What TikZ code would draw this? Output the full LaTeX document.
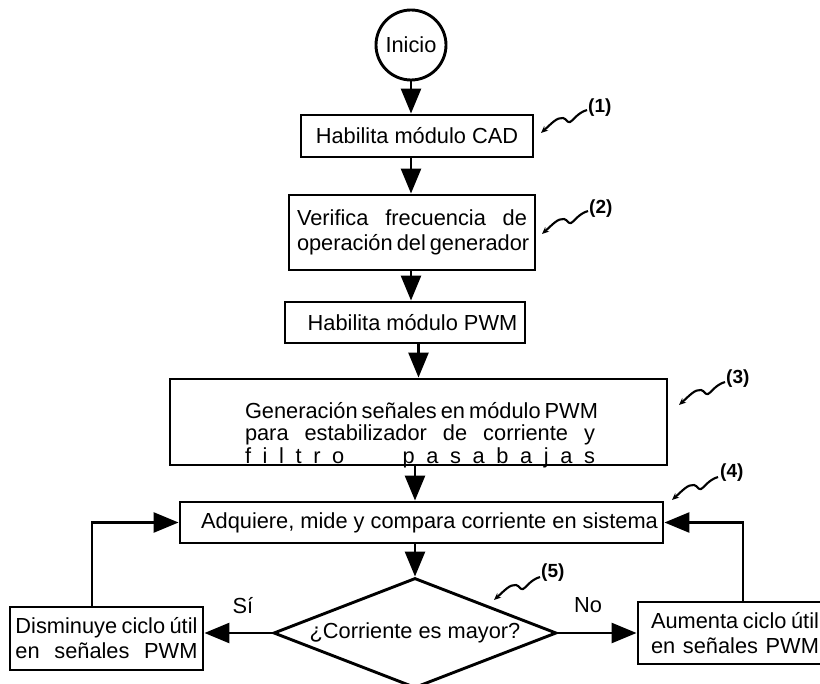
\documentclass[tikz,border=0pt]{standalone}
\usepackage{fontspec}
\setmainfont{Liberation Sans}
\usetikzlibrary{arrows.meta,shapes.geometric}

\tikzset{
  txt/.style={font=\fontsize{21.8pt}{25pt}\selectfont},
  box/.style={draw, line width=2.9pt, rectangle, inner sep=0pt, txt, align=center},
  arr/.style={line width=2.6pt, -{Triangle[length=25pt,width=20pt]}},
  lbl/.style={font=\bfseries\fontsize{19pt}{21pt}\selectfont, inner sep=0pt},
  squigline/.style={line width=2.1pt, {Stealth[length=7pt,width=6pt]}-},
  pics/squig/.style={code={
    \draw[squigline] (0,0) .. controls (10,-9) and (16,-16) .. (22,-15)
      .. controls (26,-14) and (26,-10) .. (29,-11)
      .. controls (32,-12) and (36,-20) .. (46,-23);}}
}

\begin{document}
\begin{tikzpicture}[x=1pt,y=-1pt]
\useasboundingbox (0,0) rectangle (820,684);
\clip (0,0) rectangle (820,684);
\fill[white] (0,0) rectangle (820,684);

% process chain
\node[circle, draw, line width=2.9pt, minimum size=70pt, inner sep=0pt, txt] (ini) at (411,45) {Inicio};
\node[box, minimum width=232pt, minimum height=42pt] (cad) at (417,136) {Habilita módulo CAD};
\node[box, minimum width=246pt, minimum height=75pt] (ver) at (412,232.5)
  {\makebox[230pt][s]{Verifica frecuencia de}\\\makebox[230pt][s]{operación del generador}};
\node[box, minimum width=240pt, minimum height=41pt] (pwm) at (405,322.5) {\hspace*{15pt}Habilita módulo PWM};
\node[box, minimum width=497pt, minimum height=86pt] (gen) at (418.5,422) {};
\node[txt, font=\fontsize{21.8pt}{22.5pt}\selectfont, align=center, inner sep=0pt] (gentxt) at (420,435)
  {\makebox[350pt][s]{Generación señales en módulo PWM}\\
   \makebox[350pt][s]{para estabilizador de corriente y}\\
   \makebox[350pt][s]{f\hfill i\hfill l\hfill t\hfill r\hfill o\hfill\hfill\hfill\hfill\hfill p\hfill a\hfill s\hfill a\hfill b\hfill a\hfill j\hfill a\hfill s}};
\node[box, minimum width=483pt, minimum height=41pt] (adq) at (421.5,522.5) {\hspace*{16pt}Adquiere, mide y compara corriente en sistema};
\node[diamond, draw, line width=2.9pt, minimum width=283pt, minimum height=110pt, aspect=2.5, inner sep=0pt, txt] (dec) at (415,633) {¿Corriente es mayor?};
\node[box, minimum width=193pt, minimum height=63pt] (dis) at (106.5,638.5)
  {\makebox[182pt][s]{Disminuye ciclo útil}\\\makebox[182pt][s]{en señales PWM}};
\node[box, minimum width=194pt, minimum height=62pt] (aum) at (735,633)
  {\makebox[168pt][s]{Aumenta ciclo útil}\\\makebox[168pt][s]{en señales PWM}};

\node[txt, inner sep=0pt] (si) at (243,606) {Sí};
\node[txt, inner sep=0pt] (no) at (588,605) {No};

% connectors
\draw[arr] (ini) -- (ini |- cad.north);
\draw[arr] (cad.south -| ini) -- (ver.north -| ini);
\draw[arr] (ver.south -| ini) -- (pwm.north -| ini);
\draw[arr] (pwm.south -| gen) -- (gen.north);
\draw[arr] (gen.south -| dec) -- (adq.north -| dec);
\draw[arr] (adq.south -| dec) -- (dec.north);
\draw[arr] (dec.west) -- (dec.west -| dis.east);
\draw[arr] (dec.east) -- (aum.west);
\coordinate (lc) at (92,523);
\coordinate (rc) at (743,521);
\draw[arr] (dis.north -| lc) |- (adq.west);
\draw[arr] (aum.north -| rc) |- (adq.east);

% numbered callouts
\coordinate (p1) at (541,133);
\coordinate (p2) at (542,234);
\coordinate (p3) at (679,405);
\coordinate (p4) at (672,500);
\coordinate (p5) at (494,600);
\pic at (p1) {squig};
\pic at (p2) {squig};
\pic at (p3) {squig};
\pic at (p4) {squig};
\pic at (p5) {squig};
\node[lbl, anchor=west] (n1) at (588,108) {(1)};
\node[lbl, anchor=west] (n2) at (589,209) {(2)};
\node[lbl, anchor=west] (n3) at (726,379) {(3)};
\node[lbl, anchor=west] (n4) at (720,473) {(4)};
\node[lbl, anchor=west] (n5) at (541,573) {(5)};
\end{tikzpicture}
\end{document}
